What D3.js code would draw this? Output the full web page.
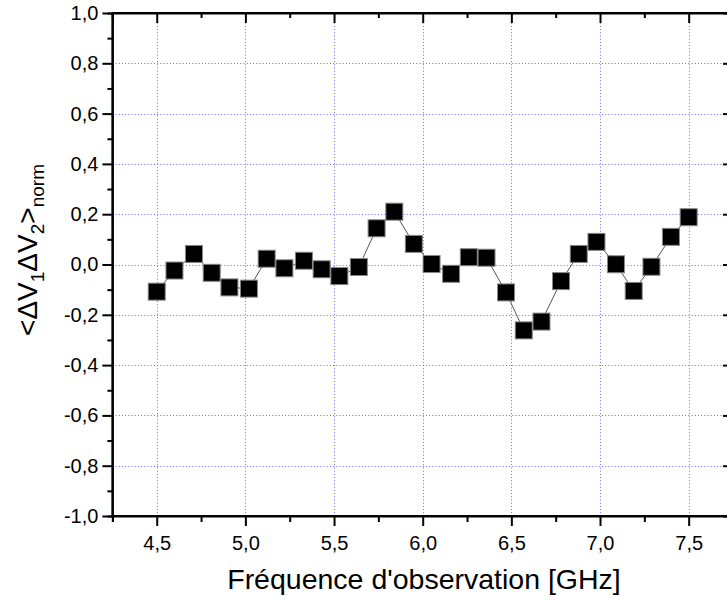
<!DOCTYPE html>
<html>
<head>
<meta charset="utf-8">
<script src="https://cdn.jsdelivr.net/npm/d3@7"></script>
<style>
  html, body { margin: 0; padding: 0; background: #fff; }
  svg { display: block; }
  text { font-family: "Liberation Sans", Arial, sans-serif; fill: #000; }
</style>
</head>
<body>
<svg id="chart" width="727" height="603"></svg>
<script>
// ---- data ----
const frequencies = [4.50, 4.60, 4.71, 4.81, 4.91, 5.02, 5.12, 5.22, 5.33, 5.43,
                     5.53, 5.64, 5.74, 5.84, 5.95, 6.05, 6.16, 6.26, 6.36, 6.47,
                     6.57, 6.67, 6.78, 6.88, 6.98, 7.09, 7.19, 7.29, 7.40, 7.50];
const correlation = [-0.108, -0.024, 0.042, -0.033, -0.091, -0.096, 0.023, -0.015, 0.015, -0.019,
                     -0.046, -0.010, 0.144, 0.210, 0.082, 0.002, -0.037, 0.029, 0.027, -0.111,
                     -0.262, -0.227, -0.066, 0.042, 0.090, 0.001, -0.105, -0.009, 0.110, 0.188];
const xMajorTicks = [4.5, 5.0, 5.5, 6.0, 6.5, 7.0, 7.5];
const xMinorTicks = [4.25, 4.75, 5.25, 5.75, 6.25, 6.75, 7.25, 7.75];
const yMajorTicks = [-1.0, -0.8, -0.6, -0.4, -0.2, 0.0, 0.2, 0.4, 0.6, 0.8, 1.0];
const yMinorTicks = [-0.9, -0.7, -0.5, -0.3, -0.1, 0.1, 0.3, 0.5, 0.7, 0.9];
const xTitle = "Fréquence d'observation [GHz]";

// ---- layout ----
const svg = d3.select("#chart");
const x = d3.scaleLinear().domain([4.25, 7.75]).range([112.4, 733.0]);
const y = d3.scaleLinear().domain([-1, 1]).range([516, 13]);
const fmt = v => d3.format(".1f")(v).replace(".", ",").replace("−", "-");

const [x0, x1] = x.range();
const [yb, yt] = y.range();

// grid
const grid = svg.append("g").attr("stroke", "#6a6aff").attr("stroke-width", 1)
  .attr("stroke-dasharray", "1,2.2");
grid.selectAll("line.gx").data(xMajorTicks).join("line")
  .attr("x1", d => Math.round(x(d)) + 0.5).attr("x2", d => Math.round(x(d)) + 0.5)
  .attr("y1", yt).attr("y2", yb);
grid.selectAll("line.gy").data(yMajorTicks.filter(v => Math.abs(v) < 0.99)).join("line")
  .attr("y1", d => Math.round(y(d)) + 0.5).attr("y2", d => Math.round(y(d)) + 0.5)
  .attr("x1", x0).attr("x2", x1);

// axes
const axisW = 2;
const gb = svg.append("g").attr("transform", `translate(0,${yb})`)
  .call(d3.axisBottom(x).tickValues(xMajorTicks).tickSize(10).tickPadding(10).tickFormat(fmt));
gb.append("g").call(d3.axisBottom(x).tickValues(xMinorTicks).tickSize(6).tickFormat(""));
const gt = svg.append("g").attr("transform", `translate(0,${yt})`)
  .call(d3.axisTop(x).tickValues(xMajorTicks).tickSize(-10).tickFormat(""));
gt.append("g").call(d3.axisTop(x).tickValues(xMinorTicks).tickSize(-5).tickFormat(""));
const gl = svg.append("g").attr("transform", `translate(${x0},0)`)
  .call(d3.axisLeft(y).tickValues(yMajorTicks).tickSize(10).tickPadding(4).tickFormat(fmt));
gl.append("g").call(d3.axisLeft(y).tickValues(yMinorTicks).tickSize(5).tickFormat(""));
const gr = svg.append("g").attr("transform", `translate(${x1},0)`)
  .call(d3.axisRight(y).tickValues(yMajorTicks).tickSize(-10).tickFormat(""));
gr.append("g").call(d3.axisRight(y).tickValues(yMinorTicks).tickSize(-5).tickFormat(""));

[gb, gt, gl, gr].forEach(g => g.attr("font-size", 20).attr("font-family", "'Liberation Sans', Arial, sans-serif"));
svg.selectAll(".domain").attr("stroke", "#000").attr("stroke-width", axisW);
svg.selectAll(".tick line").attr("stroke", "#000").attr("stroke-width", axisW);
svg.selectAll(".tick text").attr("fill", "#000");
gb.select(".domain").attr("d", `M${x0},0H${x1}`);
gt.select(".domain").attr("d", `M${x0},0H${x1}`);
gl.select(".domain").attr("d", `M0,${yb}V${yt}`);
gr.select(".domain").attr("d", `M0,${yb}V${yt}`);
gb.selectAll(".tick text").attr("dy", "0.71em");

// line + squares
const pts = frequencies.map((f, i) => [f, correlation[i]]);
svg.append("path").datum(pts)
  .attr("fill", "none").attr("stroke", "#555").attr("stroke-width", 1)
  .attr("d", d3.line().x(d => x(d[0])).y(d => y(d[1])));
const s = 17;
svg.append("g").selectAll("rect").data(pts).join("rect")
  .attr("x", d => x(d[0]) - s / 2).attr("y", d => y(d[1]) - s / 2)
  .attr("width", s).attr("height", s)
  .attr("fill", "#000").attr("stroke", "#888").attr("stroke-width", 1);

// titles
svg.append("text").attr("x", 424).attr("y", 589).attr("text-anchor", "middle")
  .style("font-size", "28.5px").text(xTitle);

const yt_ = svg.append("text").attr("transform", "translate(37,250) rotate(-90)")
  .attr("text-anchor", "middle").style("font-size", "28px");
yt_.append("tspan").text("<ΔV");
yt_.append("tspan").attr("dy", 7).style("font-size", "19px").text("1");
yt_.append("tspan").attr("dy", -7).text("ΔV");
yt_.append("tspan").attr("dy", 7).style("font-size", "19px").text("2");
yt_.append("tspan").attr("dy", -7).text(">");
yt_.append("tspan").attr("dy", 7).style("font-size", "19px").text("norm");
</script>
</body>
</html>
